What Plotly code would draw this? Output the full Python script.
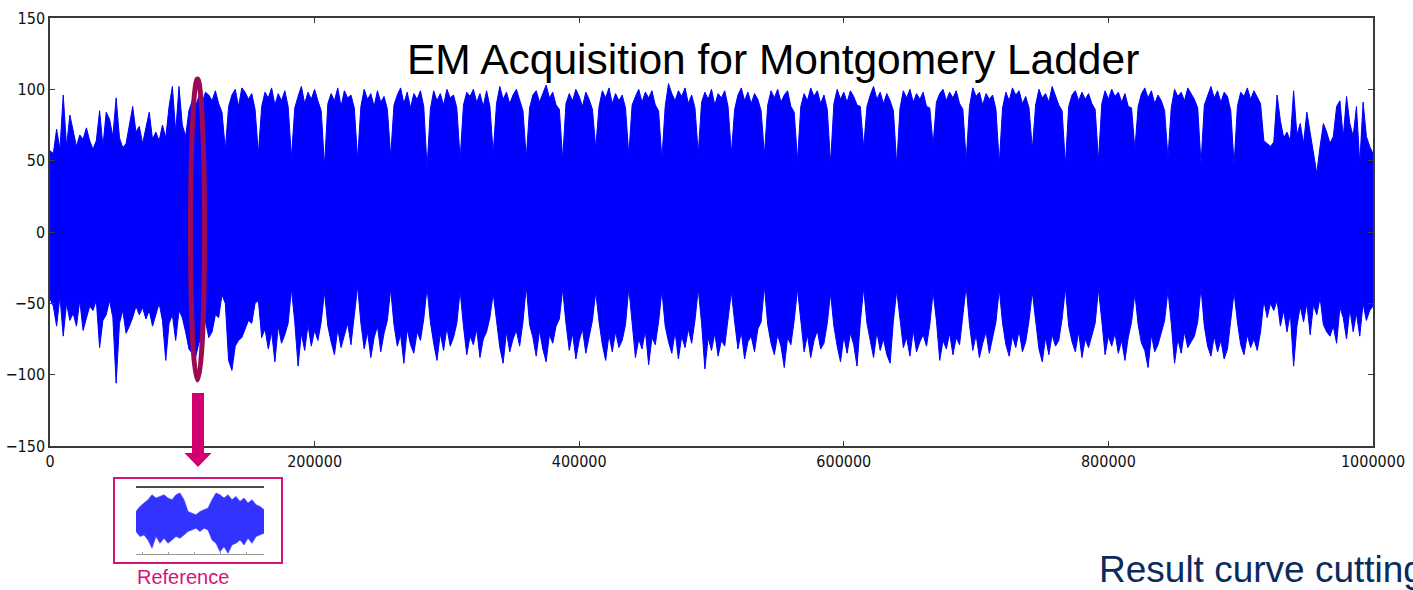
import plotly.graph_objects as go

W, H = 1413, 590
SAMPLE_STEP = 2500  # samples per envelope column

# Envelope of the EM trace: per-column maximum of the signal
trace_hi = [
    57, 55, 72, 58, 96, 60, 82, 71, 60, 68,
    65, 73, 64, 58, 64, 85, 60, 84, 79, 67,
    94, 66, 59, 62, 74, 88, 70, 74, 62, 72,
    84, 65, 70, 64, 75, 66, 88, 102, 70, 102,
    75, 67, 85, 92, 88, 95, 90, 98, 96, 92,
    99, 90, 84, 58, 88, 96, 100, 88, 101, 98,
    93, 97, 86, 55, 88, 98,
    94, 101, 89, 97, 92, 99, 88, 52,
    87, 95, 102, 90, 98, 93, 100, 92, 85, 46,
    90, 97, 92, 101, 88, 99, 94, 96, 87, 51,
    88, 100, 93, 97, 88, 99, 91, 95, 86, 53,
    89, 96, 101, 90, 98, 87, 97, 93, 99, 88, 45,
    86, 99, 92, 97, 89, 100, 94, 96, 87, 51,
    89, 98, 95, 100, 91, 97, 88, 99, 88, 55,
    90, 102, 93, 98, 90, 96, 100, 92, 85, 52,
    87, 96, 99, 91, 97, 103, 94, 98, 89, 86, 51,
    90, 97, 92, 100, 95, 88, 98, 93, 86, 59,
    88, 99, 94, 101, 90, 97, 92, 96, 87, 54,
    89, 95, 100, 91, 98, 94, 99, 89, 85, 51,
    88, 104, 97, 92, 99, 95, 101, 90, 96, 87, 55,
    91, 98, 93, 100, 89, 97, 94, 99, 88, 55,
    86, 96, 101, 92, 98, 90, 97, 93, 85, 54,
    89, 99, 94, 100, 91, 96, 99, 88, 84, 50,
    88, 97, 92, 101, 95, 99, 90, 96, 86, 48,
    90, 100, 93, 98, 91, 99, 95, 89, 88, 59,
    88, 96, 102, 93, 98, 90, 97, 92, 85, 47,
    87, 99, 94, 100, 91, 97, 93, 98, 88, 87, 61,
    91, 97, 100, 92, 98, 94, 99, 90, 86, 50,
    88, 101, 95, 98, 89, 97, 93, 96, 86, 48,
    87, 98, 92, 101, 96, 99, 90, 95, 87, 58,
    89, 100, 94, 97, 91, 102, 96, 89, 85, 47,
    88, 96, 99, 92, 98, 93, 97, 90, 86, 50,
    90, 99, 93, 100, 95, 98, 91, 97, 88, 87, 58,
    88, 97, 101, 94, 99, 90, 96, 92, 85, 52,
    87, 100, 95, 98, 92, 101, 97, 93, 87, 48,
    89, 96, 102, 94, 99, 91, 98, 95, 85, 47,
    88, 98, 95, 101, 93, 99, 94, 90, 64,
    62, 60, 63, 96, 78, 66, 70, 64, 99, 68, 76, 62, 84, 70, 55, 41,
    60, 76, 70, 62, 67, 88, 92, 66, 95, 76, 67, 88, 48, 91, 67, 60, 55,
]

# Envelope of the EM trace: per-column minimum of the signal
trace_lo = [
    -47, -52, -66, -45, -73, -50, -62, -57, -66, -48,
    -69, -60, -52, -55, -48, -81, -62, -58, -48, -60,
    -106, -64, -55, -71, -66, -60, -52, -58, -53, -61,
    -55, -66, -58, -50, -62, -90, -64, -58, -76, -55,
    -60, -70, -82, -85, -88, -78, -72, -62, -74, -70,
    -58, -60, -44, -50, -90, -97, -80, -76, -74, -68,
    -62, -64, -50, -48, -74, -68,
    -82, -70, -91, -66, -78, -72, -64, -40,
    -63, -94, -71, -83, -65, -80, -69, -76, -63, -42,
    -66, -77, -86, -68, -81, -73, -64, -79, -61, -38,
    -64, -82, -70, -88, -74, -66, -84, -71, -62, -40,
    -65, -80, -72, -92, -68, -79, -85, -70, -76, -61, -39,
    -63, -78, -90, -71, -83, -67, -80, -74, -64, -41,
    -66, -86, -73, -79, -68, -88, -75, -70, -60, -43,
    -62, -81, -92, -70, -84, -75, -69, -80, -63, -38,
    -65, -74, -87, -69, -82, -91, -72, -78, -66, -61, -40,
    -64, -83, -71, -89, -76, -68, -85, -73, -62, -42,
    -63, -79, -90, -72, -84, -70, -81, -76, -65, -39,
    -61, -88, -75, -82, -69, -93, -74, -79, -63, -41,
    -66, -77, -85, -70, -89, -73, -81, -68, -78, -62, -40,
    -64, -96, -74, -83, -71, -87, -76, -80, -61, -42,
    -63, -82, -70, -89, -77, -73, -84, -68, -63, -38,
    -65, -78, -86, -72, -80, -95, -74, -79, -62, -40,
    -61, -84, -72, -88, -76, -69, -82, -78, -64, -43,
    -66, -80, -91, -73, -85, -71, -79, -94, -63, -39,
    -64, -76, -88, -70, -83, -75, -86, -92, -62, -41,
    -63, -81, -74, -87, -69, -84, -77, -72, -80, -65, -42,
    -62, -90, -76, -82, -71, -86, -74, -79, -61, -38,
    -65, -83, -72, -88, -78, -70, -85, -75, -63, -40,
    -64, -79, -87, -73, -81, -69, -84, -77, -62, -42,
    -63, -82, -91, -74, -86, -72, -80, -76, -61, -39,
    -66, -77, -84, -70, -88, -75, -81, -73, -64, -40,
    -62, -86, -73, -80, -71, -85, -76, -90, -74, -63, -43,
    -65, -78, -83, -95, -72, -84, -79, -70, -62, -41,
    -64, -92, -75, -85, -70, -81, -77, -73, -63, -39,
    -66, -80, -87, -73, -84, -76, -89, -82, -62, -42,
    -63, -79, -86, -72, -81, -75, -83, -70, -48,
    -60, -50, -55, -48, -66, -55, -70, -57, -94, -66, -52, -63, -50, -72, -51, -58,
    -46, -65, -70, -73, -66, -78, -53, -60, -75, -54, -70, -57, -73, -50, -62, -55, -52,
]

x_ticks = [0, 200000, 400000, 600000, 800000, 1000000]
x_tick_text = ["0", "200000", "400000", "600000", "800000", "1000000"]
y_ticks = [-150, -100, -50, 0, 50, 100, 150]
y_tick_text = ["\u2212150", "\u2212100", "\u221250", "0", "50", "100", "150"]

# Small reference excerpt shown in the inset
ref_hi = [35, 50, 60, 70, 85, 75, 80, 85, 75, 70, 85, 90, 70, 35, 30, 25, 35,
          40, 45, 70, 90, 85, 75, 85, 70, 80, 65, 75, 60, 70, 55, 50, 40]
ref_lo = [-25, -40, -35, -50, -75, -40, -60, -45, -60, -50, -40, -45, -35, -25, -20, -15, -25,
          -15, -20, -50, -60, -85, -70, -90, -65, -60, -50, -65, -45, -60, -40, -35, -30]


def px(x):
    return x / W


def py(y):
    return 1 - y / H


BLUE = "#0000FF"
SPINE = "#3a3a3a"
TICK_FONT = dict(family="DejaVu Sans Condensed, DejaVu Sans, sans-serif", size=16, color="#111111")

n = len(trace_hi)
xs = [i * SAMPLE_STEP for i in range(n)]

fig = go.Figure()
fig.add_trace(go.Scatter(
    x=xs + xs[::-1],
    y=trace_hi + trace_lo[::-1],
    mode="lines",
    fill="toself",
    fillcolor=BLUE,
    line=dict(color=BLUE, width=1),
    hoverinfo="skip",
    showlegend=False,
))

rx = list(range(len(ref_hi)))
fig.add_trace(go.Scatter(
    x=rx + rx[::-1],
    y=ref_hi + ref_lo[::-1],
    mode="lines",
    fill="toself",
    fillcolor="rgba(0,0,255,0.8)",
    line=dict(color="rgba(60,60,255,0.6)", width=1),
    xaxis="x2", yaxis="y2",
    hoverinfo="skip",
    showlegend=False,
))

axis_common = dict(
    showgrid=False, zeroline=False, showline=True, linecolor=SPINE, linewidth=1.5,
    mirror="ticks", ticks="inside", ticklen=5, tickwidth=1, tickcolor=SPINE,
    tickfont=TICK_FONT, automargin=False,
)

fig.update_layout(
    width=W, height=H,
    margin=dict(l=0, r=0, t=0, b=0),
    paper_bgcolor="white", plot_bgcolor="white",
    showlegend=False,
    xaxis=dict(domain=[px(50), px(1373)], range=[0, 1000000],
               tickvals=x_ticks, ticktext=x_tick_text, **axis_common),
    yaxis=dict(domain=[py(446), py(18)], range=[-150, 150],
               tickvals=y_ticks, ticktext=y_tick_text, **axis_common),
    xaxis2=dict(domain=[px(136), px(264)], range=[0, len(ref_hi) - 1], anchor="y2",
                showgrid=False, zeroline=False, showline=True, linecolor="#9a9a9a", linewidth=1,
                ticks="inside", ticklen=2, tickcolor="#9a9a9a", tickvals=[1.5, 8, 14.5, 21, 27.5],
                showticklabels=False, automargin=False),
    yaxis2=dict(domain=[py(554), py(487)], range=[-92, 108], anchor="x2",
                showgrid=False, zeroline=False, showline=False, showticklabels=False,
                ticks="", automargin=False),
)

shapes = [
    # top line of the inset excerpt
    dict(type="line", xref="paper", yref="paper", x0=px(136), x1=px(264), y0=py(487), y1=py(487),
         line=dict(color="#111111", width=1.5)),
    # frame around the inset
    dict(type="rect", xref="paper", yref="paper", x0=px(114), x1=px(282), y0=py(563), y1=py(478),
         line=dict(color="#D6137A", width=2)),
    # ellipse highlighting the excerpt on the trace
    dict(type="circle", xref="paper", yref="paper", x0=px(190.5), x1=px(204.5), y0=py(380), y1=py(79),
         line=dict(color="#9A0A55", width=5)),
    # arrow from the ellipse down to the inset
    dict(type="path", xref="paper", yref="paper",
         path=(f"M {px(192)},{py(393)} L {px(204)},{py(393)} L {px(204)},{py(453)} "
               f"L {px(211.5)},{py(453)} L {px(198)},{py(467)} L {px(184.5)},{py(453)} "
               f"L {px(192)},{py(453)} Z"),
         fillcolor="#D2006F", line=dict(color="#D2006F", width=0)),
]

annotations = [
    dict(text="EM Acquisition for Montgomery Ladder", xref="paper", yref="paper",
         x=px(773), y=py(60), xanchor="center", yanchor="middle", showarrow=False,
         font=dict(family="Liberation Sans, Arial, sans-serif", size=42.5, color="#000000")),
    dict(text="Reference", xref="paper", yref="paper",
         x=px(183), y=py(577), xanchor="center", yanchor="middle", showarrow=False,
         font=dict(family="Liberation Sans, Arial, sans-serif", size=20, color="#D6137A")),
    dict(text="Result curve cutting", xref="paper", yref="paper",
         x=px(1097), y=py(569), xanchor="left", yanchor="middle", showarrow=False,
         font=dict(family="Liberation Sans, Arial, sans-serif", size=37, color="#0B2B5E")),
]

fig.update_layout(shapes=shapes, annotations=annotations)

fig.write_html("out.html")
